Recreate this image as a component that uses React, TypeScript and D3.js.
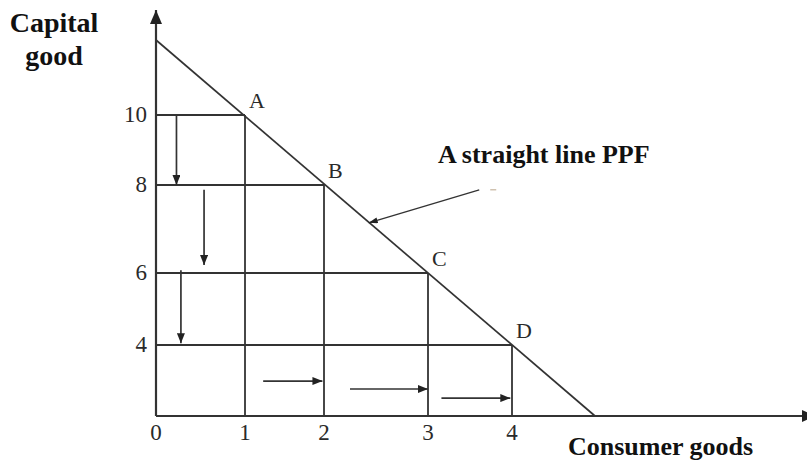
import React from "react";
import * as d3 from "d3";

// ---- data ----
const consumerGoods = [1, 2, 3, 4];
const capitalGoods = [10, 8, 6, 4];
const pointLabels = ["A", "B", "C", "D"];
const xTickValues = [0, 1, 2, 3, 4];
const yTickValues = [4, 6, 8, 10];
// PPF: K = 12 - 2C
const ppfCapitalIntercept = 12;
const ppfConsumerIntercept = 6;
// downward arrows (capital given up): [consumer, fromCapital, toCapital]
const downArrows: [number, number, number][] = [
  [0.23, 10, 8],
  [0.54, 7.89, 6.18],
  [0.28, 6.06, 4.05],
];
// rightward arrows (consumer gained): [capital, fromConsumer, toConsumer]
const rightArrows: [number, number, number][] = [
  [1.97, 1.23, 1.98],
  [1.52, 2.25, 3],
  [1.01, 3.16, 3.98],
];
// annotation arrow [consumer, capital] tail -> tip (on the PPF)
const annotationTail: [number, number] = [3.61, 7.89];
const annotationTip: [number, number] = [2.43, 7.14];

const W = 807;
const H = 461;

// schematic (piecewise) scales as drawn in the figure
const x = d3
  .scaleLinear()
  .domain([0, 1, 2, 3, 4, 6])
  .range([156, 245, 324, 428, 512, 595]);
const y = d3
  .scaleLinear()
  .domain([0, 4, 6, 8, 10, 12])
  .range([416, 345, 273, 185, 115, 40]);

const LINE = "#333";
const TEXT = "#2a2a2a";
const SERIF = "'Liberation Serif', 'Times New Roman', serif";

export default function App() {
  const line = d3
    .line<[number, number]>()
    .x((d) => x(d[0]))
    .y((d) => y(d[1]));

  const ppf = line([
    [0, ppfCapitalIntercept],
    [ppfConsumerIntercept, 0],
  ]) as string;

  const x0 = x(0);
  const y0 = y(0);

  return (
    <svg
      width={W}
      height={H}
      viewBox={`0 0 ${W} ${H}`}
      style={{ position: "absolute", left: 0, top: 0, background: "#fff" }}
    >
      <defs>
        <marker
          id="ah"
          viewBox="0 0 10 8"
          refX="10"
          refY="4"
          markerWidth="10"
          markerHeight="8"
          markerUnits="userSpaceOnUse"
          orient="auto"
        >
          <path d="M0,0 L10,4 L0,8 Z" fill="#222" />
        </marker>
        <marker
          id="ahs"
          viewBox="0 0 9 6"
          refX="9"
          refY="3"
          markerWidth="9"
          markerHeight="6"
          markerUnits="userSpaceOnUse"
          orient="auto"
        >
          <path d="M0,0 L9,3 L0,6 Z" fill="#222" />
        </marker>
        <marker
          id="axh"
          viewBox="0 0 14 12"
          refX="14"
          refY="6"
          markerWidth="14"
          markerHeight="12"
          markerUnits="userSpaceOnUse"
          orient="auto"
        >
          <path d="M0,0 L14,6 L0,12 Z" fill="#222" />
        </marker>
      </defs>

      <rect width={W} height={H} fill="#fff" />

      {/* grid lines to each point */}
      {consumerGoods.map((c, i) => (
        <g key={"g" + i} stroke={LINE} strokeWidth={1.8} fill="none">
          <line x1={x0} y1={y(capitalGoods[i])} x2={x(c)} y2={y(capitalGoods[i])} />
          <line x1={x(c)} y1={y(capitalGoods[i])} x2={x(c)} y2={y0} />
        </g>
      ))}

      {/* PPF */}
      <path d={ppf} stroke={LINE} strokeWidth={1.7} fill="none" />

      {/* axes */}
      <line x1={x0} y1={y0} x2={x0} y2={10} stroke={LINE} strokeWidth={2.2} markerEnd="url(#axh)" />
      <line x1={x0} y1={y0} x2={816} y2={y0} stroke={LINE} strokeWidth={2.2} markerEnd="url(#axh)" />

      {/* down arrows */}
      {downArrows.map(([c, k1, k2], i) => (
        <line
          key={"d" + i}
          x1={x(c)}
          y1={y(k1)}
          x2={x(c)}
          y2={y(k2)}
          stroke={LINE}
          strokeWidth={1.7}
          markerEnd="url(#ah)"
        />
      ))}

      {/* right arrows */}
      {rightArrows.map(([k, c1, c2], i) => (
        <line
          key={"r" + i}
          x1={x(c1)}
          y1={y(k)}
          x2={x(c2)}
          y2={y(k)}
          stroke={LINE}
          strokeWidth={1.7}
          markerEnd="url(#ah)"
        />
      ))}

      {/* annotation arrow */}
      <line
        x1={x(annotationTail[0])}
        y1={y(annotationTail[1])}
        x2={x(annotationTip[0])}
        y2={y(annotationTip[1])}
        stroke={LINE}
        strokeWidth={1.3}
        markerEnd="url(#ahs)"
      />
      <line
        x1={x(annotationTail[0]) + 11}
        y1={y(annotationTail[1])}
        x2={x(annotationTail[0]) + 17}
        y2={y(annotationTail[1])}
        stroke="#b9a48a"
        strokeWidth={1}
      />

      {/* point labels */}
      {consumerGoods.map((c, i) => (
        <text
          key={"p" + i}
          x={x(c) + 4}
          y={y(capitalGoods[i]) - 7}
          fontFamily={SERIF}
          fontSize={22}
          fill={TEXT}
        >
          {pointLabels[i]}
        </text>
      ))}

      {/* x tick labels */}
      {xTickValues.map((t) => (
        <text
          key={"xt" + t}
          x={x(t)}
          y={440}
          textAnchor="middle"
          fontFamily={SERIF}
          fontSize={23}
          fill={TEXT}
        >
          {t}
        </text>
      ))}

      {/* y tick labels */}
      {yTickValues.map((t) => (
        <text
          key={"yt" + t}
          x={147}
          y={y(t) + 7}
          textAnchor="end"
          fontFamily={SERIF}
          fontSize={23}
          fill={TEXT}
        >
          {t}
        </text>
      ))}

      {/* titles */}
      <text x={54} y={32} textAnchor="middle" fontFamily={SERIF} fontWeight="bold" fontSize={28} fill="#111">
        Capital
      </text>
      <text x={54} y={65} textAnchor="middle" fontFamily={SERIF} fontWeight="bold" fontSize={28} fill="#111">
        good
      </text>
      <text x={438} y={163} fontFamily={SERIF} fontWeight="bold" fontSize={26} fill="#111">
        A straight line PPF
      </text>
      <text x={568} y={455} fontFamily={SERIF} fontWeight="bold" fontSize={26} fill="#111">
        Consumer goods
      </text>
    </svg>
  );
}
